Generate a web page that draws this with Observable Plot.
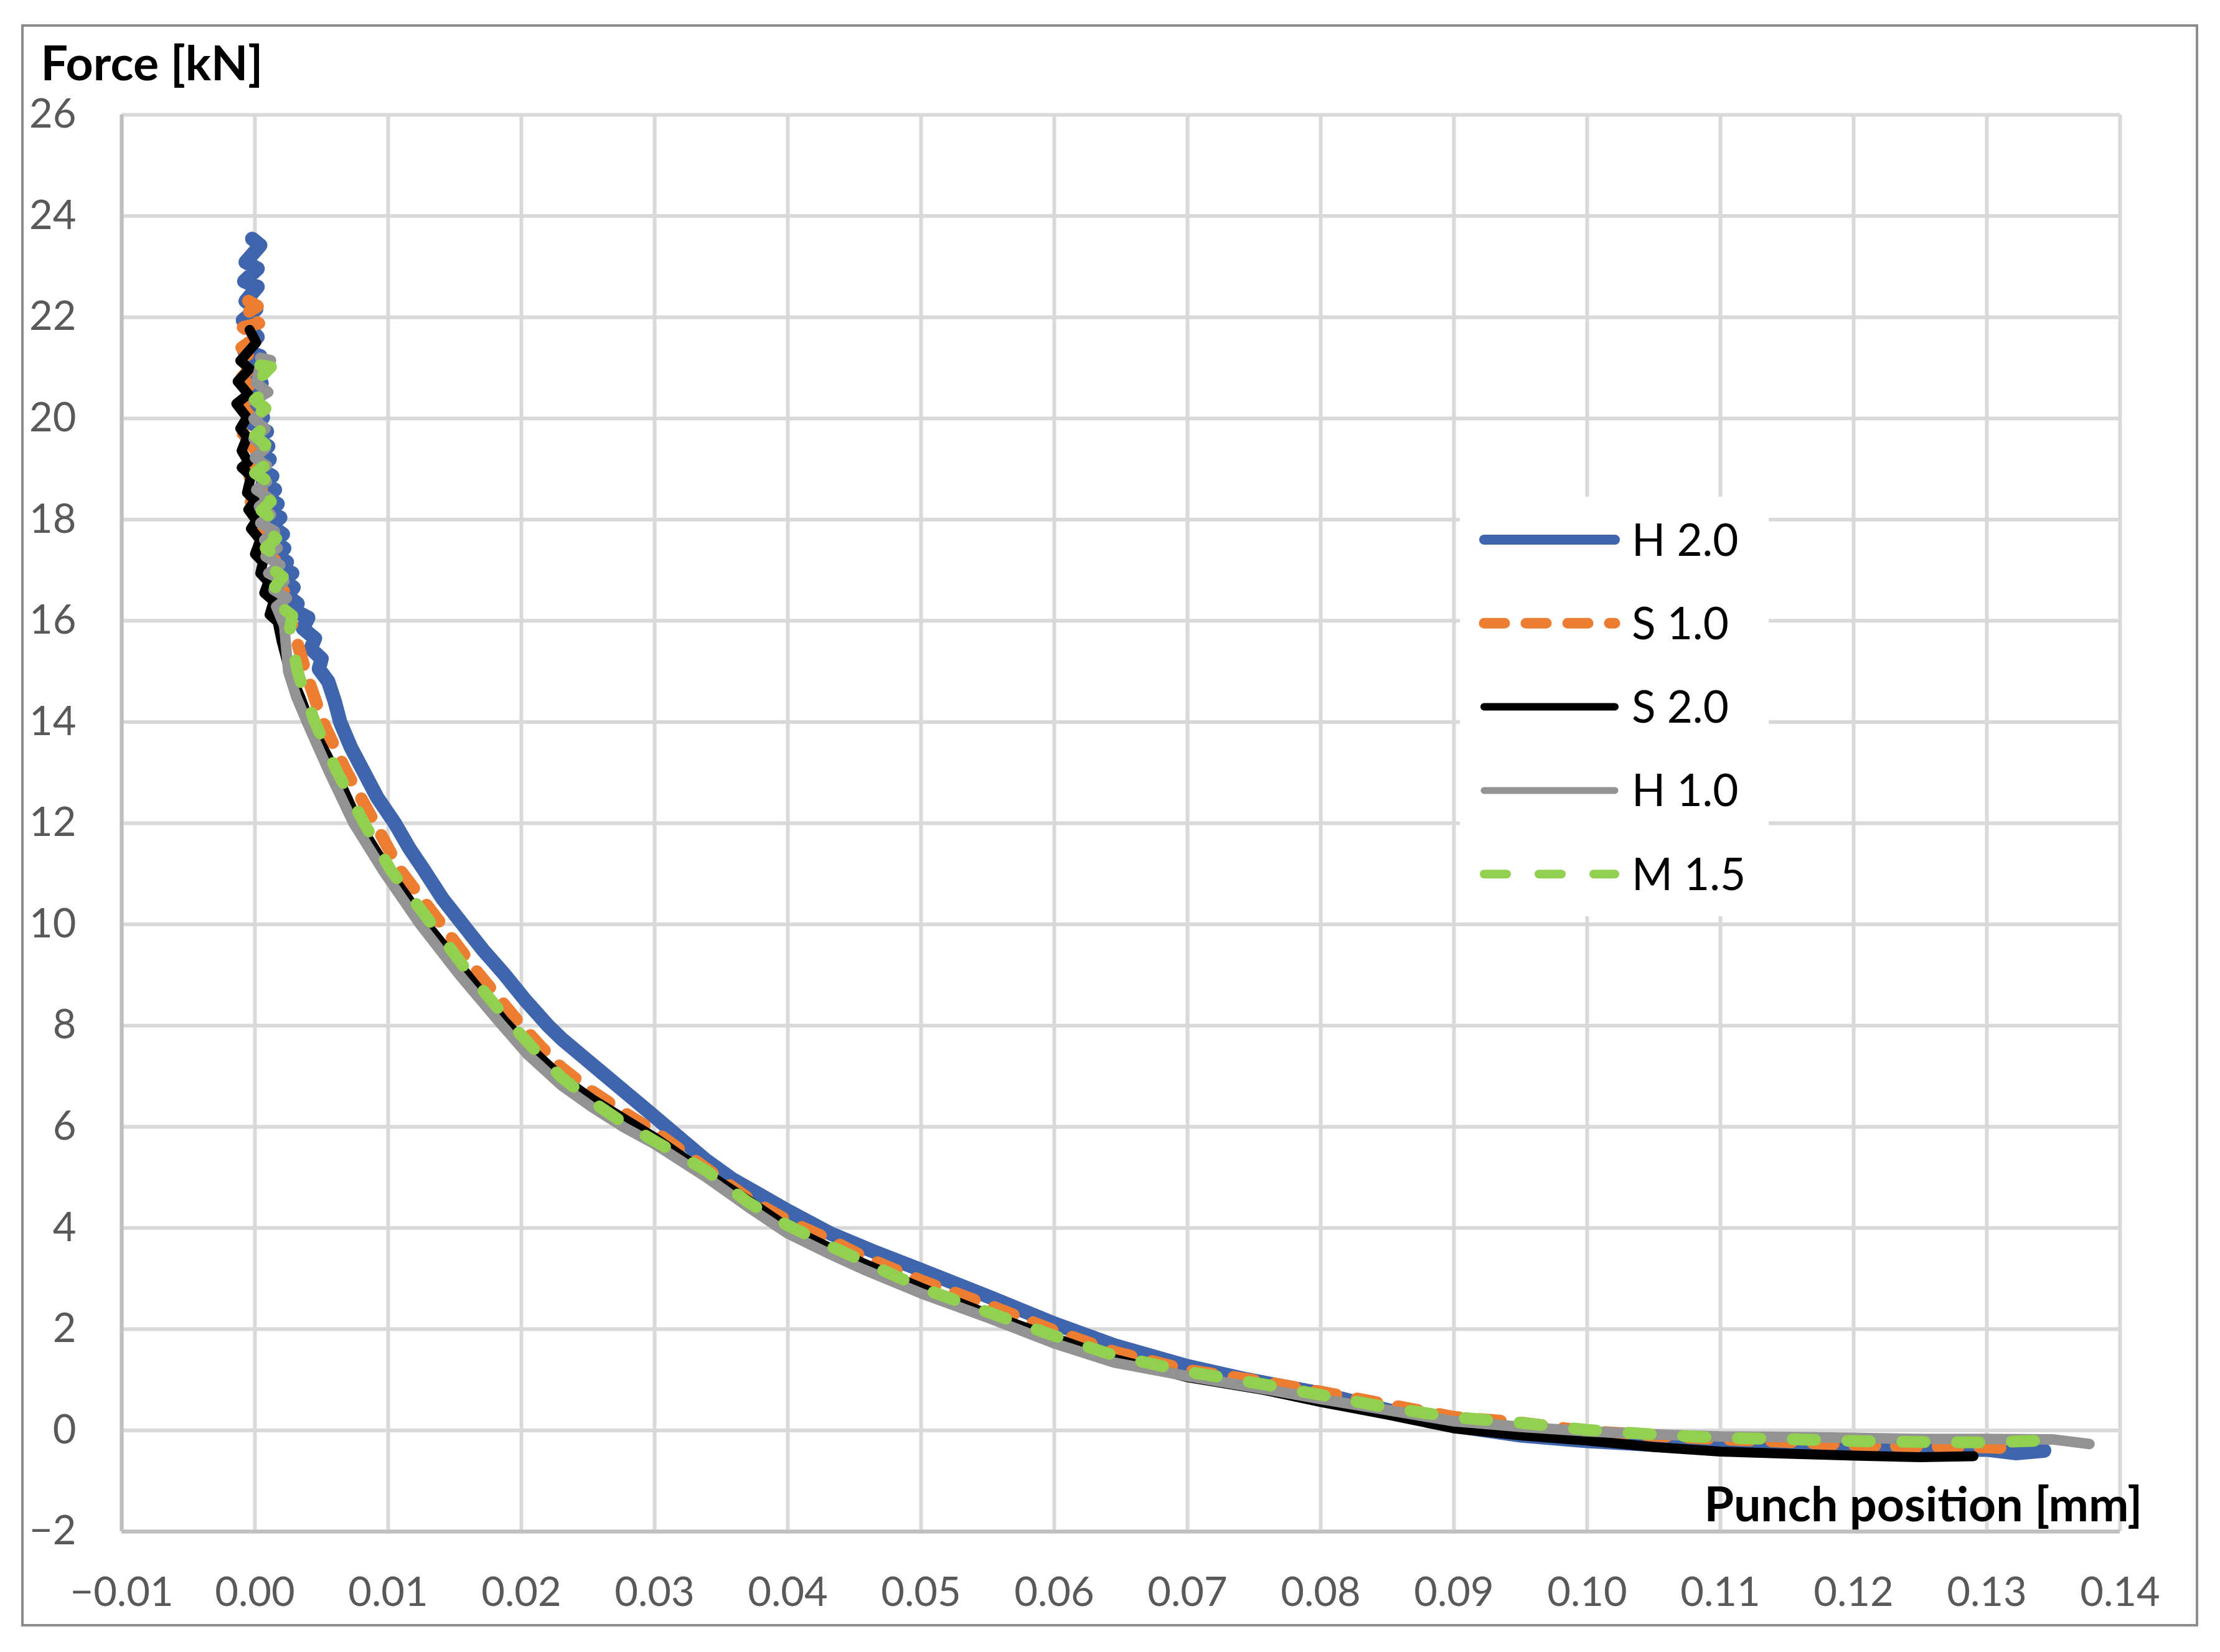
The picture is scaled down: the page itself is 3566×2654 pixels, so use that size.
<!DOCTYPE html>
<html>
<head>
<meta charset="utf-8">
<script src="https://cdn.jsdelivr.net/npm/d3@7"></script>
<script src="https://cdn.jsdelivr.net/npm/@observablehq/plot@0.6"></script>
<style>
  html, body { margin: 0; padding: 0; background: #ffffff; }
  #wrap { position: relative; width: 3566px; height: 2654px; }
  #wrap svg { position: absolute; left: 0; top: 0; }
</style>
</head>
<body>
<div id="wrap"></div>
<script>
// ---------------- data ----------------
const xTicks = [-0.01, 0.00, 0.01, 0.02, 0.03, 0.04, 0.05, 0.06, 0.07, 0.08, 0.09, 0.10, 0.11, 0.12, 0.13, 0.14];
const yTicks = [-2, 0, 2, 4, 6, 8, 10, 12, 14, 16, 18, 20, 22, 24, 26];

const xTitle = "Punch position [mm]";
const yTitle = "Force [kN]";

const seriesNames  = ["H 2.0", "S 1.0", "S 2.0", "H 1.0", "M 1.5"];
const seriesColors = ["#3f65ad", "#ed7d31", "#000000", "#939393", "#92d050"];
const legendWidths = [16, 17, 12, 11, 14];
const curveWidths  = [23, 20, 16, 17, 19];
const seriesDashes = [null, "33,34", null, null, "36,52"];

// [punch position (mm), force (kN)]
const H20 = [
  [-0.0002,23.55],[0.0004,23.42],[-0.0007,23.09],[0.0002,22.96],[-0.0008,22.71],[0.0002,22.60],
  [-0.0007,22.32],[0.0001,22.16],[-0.0009,21.94],[0.0002,21.61],[-0.0008,21.34],[0.0004,21.23],
  [-0.0005,20.95],[0.0005,20.70],[-0.0004,20.40],[0.0006,20.02],[-0.0002,19.90],[0.0009,19.74],
  [0.0000,19.60],[0.0010,19.45],[0.0002,19.30],[0.0011,19.19],[0.0004,19.00],[0.0013,18.86],
  [0.0006,18.72],[0.0015,18.59],[0.0008,18.45],[0.0017,18.31],[0.0010,18.17],[0.0019,18.04],
  [0.0012,17.88],[0.0021,17.71],[0.0014,17.57],[0.0022,17.43],[0.0016,17.30],[0.0024,17.16],
  [0.0019,17.05],[0.0028,16.94],[0.0021,16.80],[0.0029,16.66],[0.0024,16.50],[0.0032,16.34],
  [0.0030,16.20],[0.0040,16.06],[0.0036,15.85],[0.0045,15.65],[0.0042,15.45],[0.0050,15.25],
  [0.0048,15.05],[0.0055,14.80],[0.0060,14.40],[0.0064,14.00],[0.0072,13.50],[0.0081,13.05],
  [0.0092,12.50],[0.0105,12.00],[0.0116,11.50],[0.0127,11.07],[0.0141,10.50],[0.0156,10.00],
  [0.0171,9.50],[0.0187,9.02],[0.0203,8.50],[0.0220,8.00],[0.0231,7.72],[0.0246,7.39],
  [0.0261,7.06],[0.0300,6.20],[0.0339,5.33],[0.0358,4.97],[0.0378,4.67],[0.0400,4.34],
  [0.0432,3.89],[0.0463,3.55],[0.0500,3.17],[0.0551,2.64],[0.0600,2.11],[0.0645,1.68],
  [0.0700,1.27],[0.0742,1.02],[0.0800,0.73],[0.0850,0.40],[0.0900,0.09],[0.0950,-0.10],
  [0.1000,-0.21],[0.1047,-0.28],[0.1100,-0.33],[0.1148,-0.34],[0.1200,-0.37],[0.1250,-0.40],
  [0.1300,-0.38],[0.1322,-0.45],[0.1343,-0.40]
];

const S10 = [
  [-0.0005,22.32],[0.0002,22.22],[-0.0008,22.05],[0.0003,21.88],[-0.0009,21.80],[0.0001,21.60],
  [-0.0010,21.40],[0.0000,21.10],[-0.0010,20.80],[0.0000,20.55],[-0.0010,20.25],[-0.0001,19.95],
  [-0.0009,19.70],[0.0000,19.45],[-0.0008,19.25],[0.0002,19.00],[-0.0006,18.80],[0.0005,18.60],
  [-0.0003,18.35],[0.0008,18.15],[0.0000,17.90],[0.0011,17.70],[0.0004,17.45],[0.0015,17.20],
  [0.0008,17.00],[0.0018,16.70],[0.0026,16.45],[0.0020,16.20],[0.0027,16.00],[0.0038,15.00],
  [0.0051,14.00],[0.0068,13.05],[0.0090,12.00],[0.0109,11.07],[0.0140,10.00],[0.0168,9.02],
  [0.0197,8.10],[0.0214,7.60],[0.0230,7.17],[0.0253,6.70],[0.0277,6.28],[0.0300,5.91],
  [0.0339,5.17],[0.0370,4.59],[0.0400,4.14],[0.0432,3.76],[0.0456,3.44],[0.0500,2.96],
  [0.0551,2.47],[0.0600,1.97],[0.0645,1.55],[0.0700,1.19],[0.0757,0.96],[0.0800,0.76],
  [0.0850,0.51],[0.0900,0.26],[0.0950,0.15],[0.1000,-0.02],[0.1050,-0.10],[0.1100,-0.17],
  [0.1148,-0.22],[0.1200,-0.29],[0.1250,-0.32],[0.1300,-0.33],[0.1317,-0.35]
];

const S20 = [
  [-0.0004,21.75],[0.0001,21.50],[-0.0011,21.14],[-0.0004,20.98],[-0.0013,20.73],[-0.0005,20.48],
  [-0.0014,20.29],[-0.0006,20.02],[-0.0011,19.80],[-0.0006,19.63],[-0.0010,19.36],[-0.0005,19.14],
  [-0.0010,19.03],[-0.0003,18.86],[-0.0006,18.53],[0.0000,18.37],[-0.0005,18.20],[0.0001,17.98],
  [-0.0003,17.82],[0.0004,17.60],[0.0000,17.32],[0.0006,17.16],[0.0004,16.94],[0.0010,16.77],
  [0.0007,16.55],[0.0014,16.39],[0.0011,16.12],[0.0017,15.98],[0.0020,15.60],[0.0026,15.00],
  [0.0034,14.50],[0.0041,14.00],[0.0060,13.05],[0.0078,12.00],[0.0100,11.07],[0.0129,10.00],
  [0.0159,9.02],[0.0187,8.10],[0.0208,7.52],[0.0230,6.98],[0.0253,6.55],[0.0277,6.16],
  [0.0300,5.79],[0.0339,5.08],[0.0370,4.55],[0.0400,4.01],[0.0432,3.60],[0.0456,3.31],
  [0.0500,2.82],[0.0551,2.29],[0.0600,1.83],[0.0645,1.41],[0.0700,1.05],[0.0757,0.80],
  [0.0800,0.56],[0.0850,0.31],[0.0900,0.04],[0.0950,-0.10],[0.1000,-0.20],[0.1050,-0.33],
  [0.1100,-0.42],[0.1148,-0.46],[0.1200,-0.50],[0.1250,-0.53],[0.1290,-0.51]
];

const H10 = [
  [0.0004,21.20],[0.0012,21.15],[0.0003,20.95],[0.0001,20.70],[0.0010,20.52],[-0.0001,20.35],
  [0.0008,20.17],[-0.0001,19.99],[0.0008,19.80],[-0.0001,19.60],[0.0008,19.41],[0.0000,19.22],
  [0.0009,19.07],[0.0000,18.92],[0.0009,18.75],[0.0001,18.59],[0.0011,18.42],[0.0003,18.26],
  [0.0012,18.10],[0.0004,17.93],[0.0015,17.77],[0.0007,17.60],[0.0017,17.44],[0.0008,17.27],
  [0.0019,17.10],[0.0010,16.94],[0.0022,16.78],[0.0014,16.61],[0.0024,16.45],[0.0016,16.28],
  [0.0022,15.90],[0.0025,15.00],[0.0031,14.50],[0.0039,14.00],[0.0055,13.05],[0.0074,12.00],
  [0.0096,11.07],[0.0124,10.00],[0.0153,9.02],[0.0183,8.08],[0.0205,7.42],[0.0230,6.82],
  [0.0253,6.39],[0.0277,5.99],[0.0300,5.66],[0.0339,5.00],[0.0370,4.42],[0.0400,3.89],
  [0.0432,3.48],[0.0456,3.19],[0.0500,2.71],[0.0551,2.22],[0.0600,1.72],[0.0645,1.34],
  [0.0700,1.07],[0.0757,0.82],[0.0800,0.62],[0.0850,0.40],[0.0900,0.18],[0.0950,0.07],
  [0.1000,-0.02],[0.1050,-0.08],[0.1100,-0.12],[0.1148,-0.13],[0.1200,-0.15],[0.1250,-0.17],
  [0.1300,-0.17],[0.1350,-0.18],[0.1377,-0.27]
];

const M15 = [
  [0.0004,21.05],[0.0012,21.02],[0.0001,20.72],[0.0008,20.55],[0.0000,20.37],[0.0008,20.20],
  [-0.0001,20.02],[0.0008,19.85],[0.0000,19.66],[0.0008,19.48],[0.0000,19.30],[0.0009,19.10],
  [0.0000,18.92],[0.0010,18.75],[0.0003,18.53],[0.0012,18.36],[0.0005,18.18],[0.0014,18.00],
  [0.0007,17.82],[0.0016,17.63],[0.0008,17.44],[0.0018,17.25],[0.0011,17.06],[0.0021,16.87],
  [0.0015,16.67],[0.0024,16.48],[0.0019,16.29],[0.0028,16.10],[0.0026,15.80],[0.0032,15.00],
  [0.0038,14.50],[0.0045,14.00],[0.0061,13.05],[0.0082,12.00],[0.0102,11.07],[0.0133,10.00],
  [0.0161,9.02],[0.0190,8.10],[0.0210,7.52],[0.0230,6.98],[0.0253,6.50],[0.0277,6.07],
  [0.0300,5.72],[0.0339,5.13],[0.0370,4.51],[0.0400,4.05],[0.0432,3.64],[0.0456,3.35],
  [0.0500,2.82],[0.0551,2.33],[0.0600,1.87],[0.0645,1.48],[0.0700,1.16],[0.0757,0.91],
  [0.0800,0.70],[0.0850,0.45],[0.0900,0.26],[0.0950,0.15],[0.1000,0.01],[0.1050,-0.08],
  [0.1100,-0.15],[0.1148,-0.17],[0.1200,-0.21],[0.1250,-0.23],[0.1300,-0.24],[0.1352,-0.19]
];

const seriesData = [H20, S10, S20, H10, M15];

// ---------------- chart ----------------
const FONT = "Lato, 'Open Sans', 'DejaVu Sans', sans-serif";
const minusFmt = s => s.replace("-", "\u2212");

const lineMarks = seriesData.map((pts, i) => Plot.line(pts, {
  x: d => d[0],
  y: d => d[1],
  stroke: seriesColors[i],
  strokeWidth: curveWidths[i],
  strokeDasharray: seriesDashes[i] || undefined,
  strokeLinecap: "round",
  strokeLinejoin: "round"
}));

const chart = Plot.plot({
  width: 3566,
  height: 2654,
  marginLeft: 195,
  marginRight: 161,
  marginTop: 184,
  marginBottom: 194,
  x: { domain: [-0.01, 0.14] },
  y: { domain: [-2, 26] },
  style: { fontFamily: FONT, fontSize: "65px", color: "#595959", background: "transparent" },
  marks: [
    Plot.gridX(xTicks, { stroke: "#d9d9d9", strokeWidth: 6, strokeOpacity: 1 }),
    Plot.gridY(yTicks, { stroke: "#d9d9d9", strokeWidth: 6, strokeOpacity: 1 }),
    Plot.ruleX([xTicks[0]], { stroke: "#bfbfbf", strokeWidth: 6 }),
    Plot.ruleY([yTicks[0]], { stroke: "#bfbfbf", strokeWidth: 6 }),
    Plot.axisX(xTicks, { tickSize: 0, tickPadding: 73, tickFormat: d => minusFmt(d.toFixed(2)), fontSize: 65, label: null }),
    Plot.axisY(yTicks, { tickSize: 0, tickPadding: 73, tickFormat: d => minusFmt(String(d)), fontSize: 65, label: null }),
    ...lineMarks,
    Plot.text([yTitle], { text: d => d, frameAnchor: "top-left", textAnchor: "start", lineAnchor: "bottom",
      dx: -130, dy: -56, fontSize: 77, fontWeight: "bold", fill: "#000000" }),
    Plot.text([xTitle], { text: d => d, frameAnchor: "bottom-right", textAnchor: "end", lineAnchor: "bottom",
      dx: 36, dy: -17, fontSize: 77, fontWeight: "bold", fill: "#000000" })
  ]
});

const wrap = document.getElementById("wrap");
wrap.appendChild(chart);

// ---------------- overlay: chart border + legend ----------------
const ov = d3.select(wrap).append("svg")
  .attr("width", 3566).attr("height", 2654)
  .style("pointer-events", "none");

ov.append("rect")
  .attr("x", 36).attr("y", 41).attr("width", 3493).attr("height", 2570)
  .attr("fill", "none").attr("stroke", "#8c8c8c").attr("stroke-width", 4);

const lg = ov.append("g").attr("font-family", FONT);
lg.append("rect")
  .attr("x", 2345).attr("y", 798).attr("width", 496).attr("height", 674)
  .attr("fill", "#ffffff");

seriesNames.forEach((name, i) => {
  const y = 867 + i * 134.3;
  const ln = lg.append("line")
    .attr("x1", 2384).attr("x2", 2594).attr("y1", y).attr("y2", y)
    .attr("stroke", seriesColors[i]).attr("stroke-width", legendWidths[i])
    .attr("stroke-linecap", "round");
  if (seriesDashes[i]) ln.attr("stroke-dasharray", seriesDashes[i]);
  lg.append("text")
    .attr("x", 2621).attr("y", y).attr("dy", "0.36em")
    .attr("font-size", 71).attr("fill", "#000000")
    .text(name);
});
</script>
</body>
</html>
